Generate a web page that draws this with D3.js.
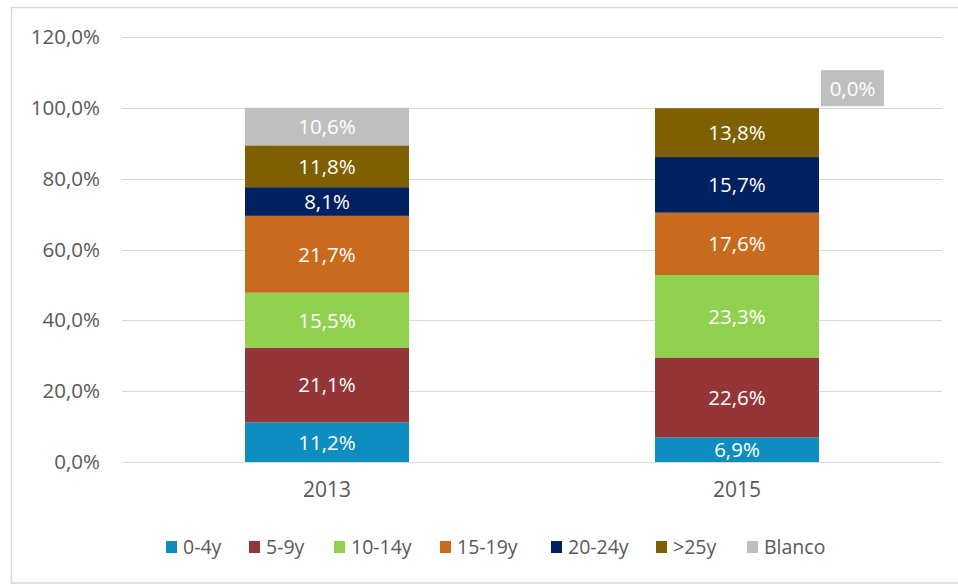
<!DOCTYPE html>
<html>
<head>
<meta charset="utf-8">
<script src="https://cdn.jsdelivr.net/npm/d3@7"></script>
<style>
  html, body { margin: 0; padding: 0; background: #fff; }
  svg { display: block; font-family: "Open Sans", Lato, sans-serif; }
</style>
</head>
<body>
<svg id="chart" width="958" height="585"></svg>
<script>
// Age-group shares per year (percent)
const years = ["2013", "2015"];
const groups = ["0-4y", "5-9y", "10-14y", "15-19y", "20-24y", ">25y", "Blanco"];
const share2013 = [11.2, 21.1, 15.5, 21.7, 8.1, 11.8, 10.6];
const share2015 = [6.9, 22.6, 23.3, 17.6, 15.7, 13.8, 0.0];
const colors = ["#0E8DC1", "#943638", "#92D050", "#C86B1E", "#002060", "#7F6000", "#BFBFBF"];
const yTicks = [0, 20, 40, 60, 80, 100, 120];

const seriesByYear = [share2013, share2015];
const rows = years.map((y, i) => {
  const r = { year: y };
  groups.forEach((g, j) => r[g] = seriesByYear[i][j]);
  return r;
});

const svg = d3.select("#chart");
const W = 958, H = 585;
const m = { left: 122, right: 16, top: 37, bottom: 123 };
const FONT = "'Open Sans', Lato, sans-serif";

// frame
svg.append("rect")
  .attr("x", 11.5).attr("y", 7.5)
  .attr("width", 960).attr("height", 575.5)
  .attr("fill", "none").attr("stroke", "#D9D9D9").attr("stroke-width", 1.5);

const x = d3.scaleBand().domain(years).range([m.left, W - m.right]).paddingInner(0.6).paddingOuter(0.3);
const y = d3.scaleLinear().domain([0, 120]).range([H - m.bottom, m.top]);

// gridlines
svg.append("g").selectAll("line").data(yTicks).join("line")
  .attr("x1", m.left).attr("x2", W - m.right)
  .attr("y1", d => Math.round(y(d)) + 0.5).attr("y2", d => Math.round(y(d)) + 0.5)
  .attr("stroke", "#D9D9D9").attr("stroke-width", 1);

// y axis labels
const fmt = v => v.toFixed(1).replace(".", ",") + "%";
const yAxis = d3.axisLeft(y).tickValues(yTicks).tickFormat(fmt).tickSize(0).tickPadding(22);
const gy = svg.append("g").attr("transform", `translate(${m.left},0)`).call(yAxis);
gy.select(".domain").remove();
gy.selectAll("text").attr("fill", "#595959").style("font-size", "20.5px").style("font-family", FONT);

// x axis labels
const xAxis = d3.axisBottom(x).tickSize(0).tickPadding(20);
const gx = svg.append("g").attr("transform", `translate(0,${y(0)})`).call(xAxis);
gx.select(".domain").remove();
gx.selectAll("text").attr("fill", "#595959").style("font-size", "21px").style("font-family", FONT);

// stacked bars
const stack = d3.stack().keys(groups)(rows);
const layers = svg.append("g").selectAll("g").data(stack).join("g")
  .attr("fill", (d, i) => colors[i]);
layers.selectAll("rect").data(d => d).join("rect")
  .attr("x", d => x(d.data.year))
  .attr("width", x.bandwidth())
  .attr("y", d => y(d[1]))
  .attr("height", d => y(d[0]) - y(d[1]));

// value labels
stack.forEach((layer, i) => {
  layer.forEach(d => {
    const v = d[1] - d[0];
    const cx = x(d.data.year) + x.bandwidth() / 2;
    if (v > 0) {
      svg.append("text")
        .attr("x", cx)
        .attr("y", (y(d[0]) + y(d[1])) / 2)
        .attr("dy", "0.36em")
        .attr("text-anchor", "middle")
        .attr("fill", "#fff")
        .style("font-size", "20.5px")
        .text(fmt(v));
    } else {
      // zero-height segment: boxed label beside the bar top
      const bx = x(d.data.year) + x.bandwidth() + 2;
      const by = y(d[1]) - 38;
      svg.append("rect").attr("x", bx).attr("y", by).attr("width", 63).attr("height", 36)
        .attr("fill", colors[i]);
      svg.append("text")
        .attr("x", bx + 31.5).attr("y", by + 18).attr("dy", "0.36em")
        .attr("text-anchor", "middle").attr("fill", "#fff")
        .style("font-size", "20.5px")
        .text(fmt(v));
    }
  });
});

// legend
const legend = svg.append("g").attr("transform", "translate(0,547)");
const legendX = [166, 249, 334, 440, 551, 656, 747];
groups.forEach((g, i) => {
  const lg = legend.append("g").attr("transform", `translate(${legendX[i]},0)`);
  lg.append("rect").attr("x", 0).attr("y", -6).attr("width", 11).attr("height", 12).attr("fill", colors[i]);
  lg.append("text").attr("x", 17).attr("y", 0).attr("dy", "0.36em")
    .attr("fill", "#595959").style("font-size", "19.5px").text(g);
});
</script>
</body>
</html>
